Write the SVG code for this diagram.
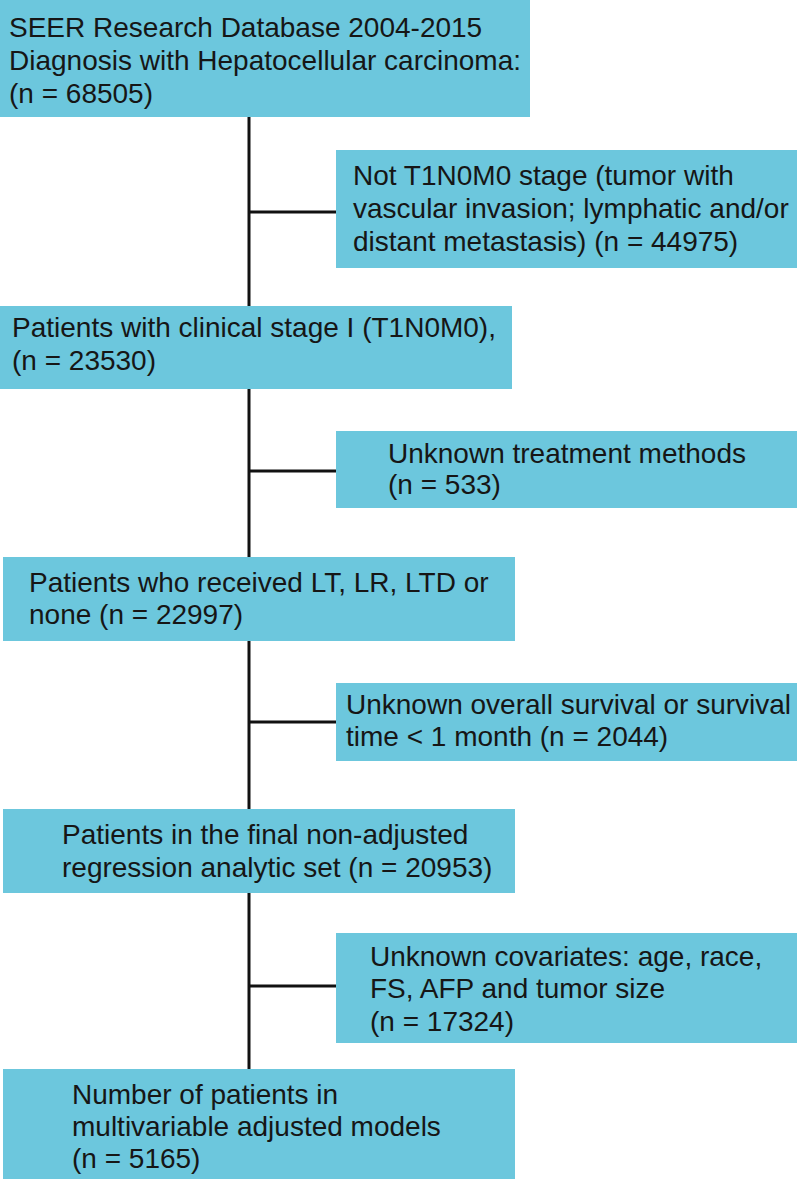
<svg xmlns="http://www.w3.org/2000/svg" width="800" height="1181" viewBox="0 0 800 1181">
<style>
.box{fill:#6cc7dd;}
.t{font-family:"Liberation Sans",Arial,sans-serif;font-size:28px;fill:#161616;}
.c{stroke:#111;stroke-width:3;fill:none;}
</style>
<rect width="800" height="1181" fill="#fff"/>
<g id="connectors">
<line class="c" x1="249" y1="117" x2="249" y2="1069"/>
<line class="c" x1="249" y1="212" x2="336" y2="212"/>
<line class="c" x1="249" y1="471" x2="336" y2="471"/>
<line class="c" x1="249" y1="722" x2="336" y2="722"/>
<line class="c" x1="249" y1="986" x2="336" y2="986"/>
</g>
<g id="n1"><rect class="box" x="0" y="0" width="530" height="117"/>
<text class="t"><tspan x="9" y="37">SEER Research Database 2004-2015</tspan><tspan x="9" y="70">Diagnosis with Hepatocellular carcinoma:</tspan><tspan x="9" y="103">(n = 68505)</tspan></text></g>
<g id="n2"><rect class="box" x="336" y="150" width="461" height="118"/>
<text class="t"><tspan x="353" y="185">Not T1N0M0 stage (tumor with</tspan><tspan x="353" y="218">vascular invasion; lymphatic and/or</tspan><tspan x="353" y="251">distant metastasis) (n = 44975)</tspan></text></g>
<g id="n3"><rect class="box" x="0" y="306" width="512" height="83"/>
<text class="t"><tspan x="12" y="337">Patients with clinical stage I (T1N0M0),</tspan><tspan x="12" y="370">(n = 23530)</tspan></text></g>
<g id="n4"><rect class="box" x="336" y="431" width="461" height="77"/>
<text class="t"><tspan x="388" y="463">Unknown treatment methods</tspan><tspan x="388" y="494">(n = 533)</tspan></text></g>
<g id="n5"><rect class="box" x="3" y="557" width="512" height="84"/>
<text class="t"><tspan x="29" y="592">Patients who received LT, LR, LTD or</tspan><tspan x="29" y="624">none (n = 22997)</tspan></text></g>
<g id="n6"><rect class="box" x="336" y="683" width="461" height="78"/>
<text class="t"><tspan x="346" y="714">Unknown overall survival or survival</tspan><tspan x="346" y="746">time &lt; 1 month (n = 2044)</tspan></text></g>
<g id="n7"><rect class="box" x="3" y="809" width="512" height="84"/>
<text class="t"><tspan x="62" y="844">Patients in the final non-adjusted</tspan><tspan x="62" y="877">regression analytic set (n = 20953)</tspan></text></g>
<g id="n8"><rect class="box" x="336" y="933" width="461" height="110"/>
<text class="t"><tspan x="370" y="966">Unknown covariates: age, race,</tspan><tspan x="370" y="998">FS, AFP and tumor size</tspan><tspan x="370" y="1031">(n = 17324)</tspan></text></g>
<g id="n9"><rect class="box" x="3" y="1069" width="512" height="110"/>
<text class="t"><tspan x="72" y="1104">Number of patients in</tspan><tspan x="72" y="1136">multivariable adjusted models</tspan><tspan x="72" y="1168">(n = 5165)</tspan></text></g>
</svg>
